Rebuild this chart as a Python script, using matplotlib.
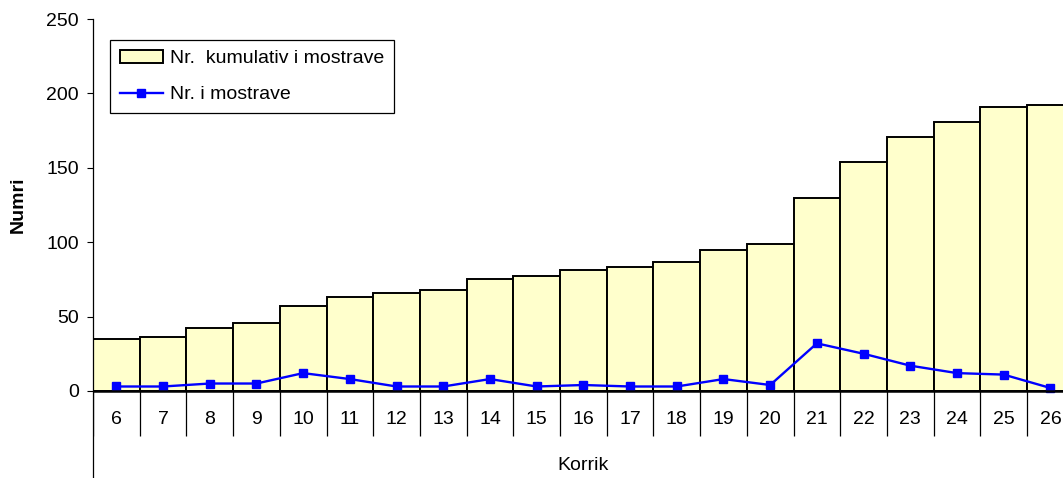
import matplotlib.pyplot as plt
import numpy as np

plt.rcParams['font.family'] = ['Liberation Sans', 'DejaVu Sans']

# te dhenat
days = ['6', '7', '8', '9', '10', '11', '12', '13', '14', '15', '16',
        '17', '18', '19', '20', '21', '22', '23', '24', '25', '26']
cumulative = [35, 36, 42, 46, 57, 63, 66, 68, 75, 77, 81,
              83, 87, 95, 99, 130, 154, 171, 181, 191, 192]
samples = [3, 3, 5, 5, 12, 8, 3, 3, 8, 3, 4,
           3, 3, 8, 4, 32, 25, 17, 12, 11, 2]

x = np.arange(len(days))
fs = 14

fig = plt.figure(figsize=(10.63, 4.78), dpi=100)
ax = fig.add_axes([93 / 1063, 0.0, 970 / 1063, 459 / 478])

bars = ax.bar(x, cumulative, width=1.0, color='#FFFFCC', edgecolor='black',
              linewidth=1.4, label='Nr.  kumulativ i mostrave', zorder=2)
line, = ax.plot(x, samples, color='#0000FF', linewidth=1.7, marker='s',
                markersize=5.5, label='Nr. i mostrave', zorder=3)

ax.set_xlim(-0.5, 20.27)
ax.set_ylim(-58.5, 250)
ax.axhline(0, color='black', linewidth=1.8, zorder=4)

# kutite e kategorive poshte zeros
ax.vlines(np.append(x - 0.5, x[-1] + 0.5), -30.5, 0, color='black', linewidth=0.9)
for i, d in enumerate(days):
    ax.text(i, -19.5, d, ha='center', va='center', fontsize=fs)
ax.text(10, -50, 'Korrik', ha='center', va='center', fontsize=fs)

ax.set_yticks([0, 50, 100, 150, 200, 250])
ax.set_xticks([])
ax.tick_params(axis='y', direction='out', length=4, width=0.8, pad=6, labelsize=fs)
for s in ['top', 'right', 'bottom']:
    ax.spines[s].set_visible(False)
ax.spines['left'].set_linewidth(0.9)

fig.text(18 / 1063, 1 - 205 / 478, 'Numri', rotation=90, ha='center', va='center',
         fontsize=fs, fontweight='bold')

leg = ax.legend([bars, line], ['Nr.  kumulativ i mostrave', 'Nr. i mostrave'],
                loc='upper left', bbox_to_anchor=((110 - 93) / 970, (478 - 40) / 459),
                fontsize=fs, frameon=True, fancybox=False, framealpha=1,
                edgecolor='black', handlelength=2.2, handletextpad=0.4,
                labelspacing=0.95, borderpad=0.5, borderaxespad=0)
leg.get_frame().set_linewidth(0.9)

fig.savefig('out.png', dpi=100)
